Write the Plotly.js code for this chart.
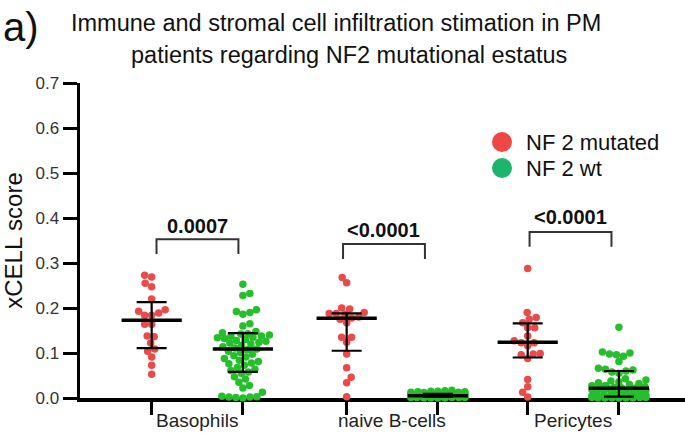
<!DOCTYPE html>
<html><head><meta charset="utf-8">
<script src="https://cdn.plot.ly/plotly-3.0.1.min.js"></script>
<style>html,body{margin:0;padding:0;background:#fff}#chart{width:685px;height:443px}</style>
</head><body><div id="chart"></div>
<script>
// ---------- DATA ----------
const categories = ["Basophils", "naive B-cells", "Pericytes"];
const seriesNames = ["NF 2 mutated", "NF 2 wt"];
const titleLines = ["Immune and stromal cell infiltration stimation in PM", "patients regarding NF2 mutational estatus"];

const mutBasophils = [0.273, 0.269, 0.255, 0.247, 0.220, 0.193, 0.196, 0.184, 0.184, 0.189,
  0.164, 0.164, 0.138, 0.136, 0.122, 0.109, 0.104, 0.091, 0.073, 0.053];
const wtBasophils = [0.253, 0.232, 0.228, 0.196, 0.192, 0.190, 0.186, 0.165, 0.160, 0.148,
  0.145, 0.143, 0.142, 0.140, 0.138, 0.137, 0.135, 0.134, 0.132, 0.130, 0.128, 0.126, 0.124,
  0.122, 0.120, 0.117, 0.114, 0.111, 0.109, 0.107, 0.104, 0.101, 0.097, 0.094, 0.091, 0.088,
  0.084, 0.081, 0.078, 0.076, 0.073, 0.068, 0.064, 0.061, 0.058, 0.055, 0.047, 0.042, 0.035,
  0.028, 0.022, 0.013, 0.004, 0.003, 0.002, 0.002, 0.001, 0.000];
const mutNaiveB = [0.268, 0.256, 0.200, 0.198, 0.188, 0.186, 0.190, 0.188, 0.180, 0.175,
  0.178, 0.167, 0.124, 0.135, 0.135, 0.098, 0.067, 0.046, 0.034, 0.003];
const wtNaiveB = [0.017, 0.016, 0.015, 0.015, 0.014, 0.014, 0.013, 0.013, 0.012, 0.012,
  0.011, 0.011, 0.010, 0.010, 0.009, 0.009, 0.009, 0.008, 0.008, 0.008, 0.007, 0.007, 0.007,
  0.006, 0.006, 0.006, 0.006, 0.005, 0.005, 0.005, 0.005, 0.005, 0.004, 0.004, 0.004, 0.004,
  0.004, 0.003, 0.003, 0.003, 0.003, 0.003, 0.003, 0.002, 0.002, 0.002, 0.002, 0.002, 0.001,
  0.001, 0.001, 0.001, 0.001, 0.001, 0.000, 0.000, 0.000, 0.000];
const mutPericytes = [0.288, 0.190, 0.179, 0.175, 0.167, 0.156, 0.156, 0.138, 0.127, 0.123,
  0.116, 0.123, 0.096, 0.099, 0.098, 0.088, 0.041, 0.025, 0.013, 0.002];
const wtPericytes = [0.157, 0.102, 0.100, 0.098, 0.096, 0.093, 0.081, 0.066, 0.064, 0.062,
  0.060, 0.058, 0.055, 0.043, 0.040, 0.038, 0.036, 0.034, 0.032, 0.030, 0.028, 0.027, 0.025,
  0.024, 0.023, 0.022, 0.022, 0.021, 0.020, 0.019, 0.018, 0.016, 0.015, 0.014, 0.012, 0.011,
  0.010, 0.009, 0.008, 0.007, 0.006, 0.005, 0.004, 0.003, 0.003, 0.002, 0.002, 0.002, 0.001,
  0.001, 0.001, 0.001, 0.000, 0.000, 0.000, 0.000, 0.000, 0.000];

// median and interquartile range
const mutMedian = [0.173, 0.177, 0.124];
const mutQ3 = [0.213, 0.188, 0.166];
const mutQ1 = [0.111, 0.105, 0.090];
const wtMedian = [0.109, 0.005, 0.0215];
const wtQ3 = [0.144, 0.009, 0.060];
const wtQ1 = [0.058, 0.002, 0.003];

const pValues = ["0.0007", "<0.0001", "<0.0001"];
const yTickVals = [0, 0.1, 0.2, 0.3, 0.4, 0.5, 0.6, 0.7];
const yTickText = ["0.0", "0.1", "0.2", "0.3", "0.4", "0.5", "0.6", "0.7"];

// ---------- LAYOUT CONSTANTS ----------
const W = 685, H = 443;
const M = {l: 80, r: 0, t: 83, b: 45};
const PW = W - M.l - M.r, PH = H - M.t - M.b;
const X_RANGE = [0, 6.5], Y_RANGE = [0, 0.7];
const PX_PER_X = PW / (X_RANGE[1] - X_RANGE[0]);
const PX_PER_Y = PH / (Y_RANGE[1] - Y_RANGE[0]);
const px2paperX = px => (px - M.l) / PW;
const px2paperY = py => (H - M.b - py) / PH;

const groupCenters = [1.26, 3.355, 5.30];
const pairOffset = 0.49;
const bracketCenters = [1.262, 3.266, 5.27];
const bracketHalf = 0.44;
const bracketTop = [0.353, 0.342, 0.369];
const bracketDrop = 0.033;
const labelY = [0.382, 0.373, 0.402];

const RED = "#E94B4B", GREEN = "#24BF2A";
const LEG_COLORS = ["#EF4646", "#1DB46E"];
const FONT = "Liberation Sans, Arial, Helvetica, sans-serif";
const MS = 7.5;

function swarmOffsets(vals, diam, maxHalf) {
  const n = vals.length;
  const order = vals.map((v, i) => i).sort((a, b) => vals[a] - vals[b]);
  const placed = [], off = new Array(n).fill(0);
  const cands = [0];
  for (let s = 0.5; s <= maxHalf + 1e-9; s += 0.5) cands.push(s, -s);
  let flip = 1;
  for (const i of order) {
    const y = vals[i] * PX_PER_Y;
    let best = 0, bestCost = Infinity;
    for (const c0 of cands) {
      const c = c0 * flip;
      let cost = 0;
      for (const p of placed) {
        const dx = c - p.x, dy = y - p.y;
        const d = Math.sqrt(dx * dx + dy * dy);
        if (d < diam) cost += diam - d;
      }
      if (cost < bestCost - 1e-6) { bestCost = cost; best = c; }
    }
    flip = -flip;
    placed.push({x: best, y: y});
    off[i] = best;
  }
  return off;
}

function swarmTrace(vals, center, color, name) {
  const off = swarmOffsets(vals, 7, 27);
  return {
    type: "scatter", mode: "markers", name: name, showlegend: false, cliponaxis: false, hoverinfo: "y",
    x: off.map(o => center + o / PX_PER_X), y: vals,
    marker: {color: color, size: MS, line: {width: 0}}
  };
}

const mutGroups = [mutBasophils, mutNaiveB, mutPericytes];
const wtGroups = [wtBasophils, wtNaiveB, wtPericytes];
const mutX = groupCenters.map(c => c - pairOffset);
const wtX = groupCenters.map(c => c + pairOffset);

const traces = [];
mutGroups.forEach((g, i) => traces.push(swarmTrace(g, mutX[i], RED, seriesNames[0])));
wtGroups.forEach((g, i) => traces.push(swarmTrace(g, wtX[i], GREEN, seriesNames[1])));

function summaryTrace(xs, med, q3, q1) {
  return {
    type: "scatter", mode: "markers", showlegend: false, cliponaxis: false, hoverinfo: "y",
    x: xs, y: med,
    marker: {symbol: "line-ew", size: 43, color: "#000", line: {color: "#000", width: 3.5}},
    error_y: {type: "data", symmetric: false,
      array: q3.map((v, i) => v - med[i]), arrayminus: q1.map((v, i) => med[i] - v),
      color: "#000", thickness: 2.2, width: 15}
  };
}
traces.push(summaryTrace(mutX, mutMedian, mutQ3, mutQ1));
traces.push(summaryTrace(wtX, wtMedian, wtQ3, wtQ1));

const shapes = [];
const annotations = [];
categories.forEach((c, i) => {
  const x0 = bracketCenters[i] - bracketHalf, x1 = bracketCenters[i] + bracketHalf;
  const yt = bracketTop[i], yb = yt - bracketDrop;
  shapes.push({type: "path", xref: "x", yref: "y",
    path: `M${x0},${yb} L${x0},${yt} L${x1},${yt} L${x1},${yb}`,
    line: {color: "#333", width: 2}});
  annotations.push({xref: "x", yref: "y", x: bracketCenters[i], y: labelY[i],
    text: "<b>" + pValues[i].replace("<", "&lt;") + "</b>",
    showarrow: false, xanchor: "center", yanchor: "middle",
    font: {family: FONT, size: 20, color: "#111"}});
  annotations.push({xref: "x", yref: "paper", x: groupCenters[i], y: 0, yshift: -22,
    text: c, showarrow: false, xanchor: "center", yanchor: "middle",
    font: {family: FONT, size: 19, color: "#222"}});
});

// manual legend (larger symbols, tighter spacing than Plotly's legend allows)
const legendCY = [142, 168];
seriesNames.forEach((nm, i) => {
  shapes.push({type: "circle", xref: "paper", yref: "paper", xsizemode: "pixel", ysizemode: "pixel",
    xanchor: px2paperX(502), yanchor: px2paperY(legendCY[i]), x0: -10, x1: 10, y0: -10, y1: 10,
    fillcolor: LEG_COLORS[i], line: {width: 0}});
  annotations.push({xref: "paper", yref: "paper", x: px2paperX(524), y: px2paperY(legendCY[i]),
    xanchor: "left", yanchor: "middle", text: nm, showarrow: false,
    font: {family: FONT, size: 22, color: "#111"}});
});

// panel letter and title
annotations.push({xref: "paper", yref: "paper", x: px2paperX(1), y: px2paperY(3),
  xanchor: "left", yanchor: "top", text: "a)", showarrow: false,
  font: {family: FONT, size: 40, color: "#111"}});
annotations.push({xref: "paper", yref: "paper", x: px2paperX(336), y: px2paperY(23),
  xanchor: "center", yanchor: "middle", text: titleLines[0], showarrow: false,
  font: {family: FONT, size: 23.5, color: "#111"}});
annotations.push({xref: "paper", yref: "paper", x: px2paperX(349), y: px2paperY(55),
  xanchor: "center", yanchor: "middle", text: titleLines[1], showarrow: false,
  font: {family: FONT, size: 23.5, color: "#111"}});

const layout = {
  width: W, height: H, margin: M,
  paper_bgcolor: "#fff", plot_bgcolor: "#fff", showlegend: false,
  xaxis: {range: X_RANGE, showgrid: false, zeroline: false, showline: true, linecolor: "#000", linewidth: 3.5,
    ticks: "outside", ticklen: 13, tickwidth: 3, tickcolor: "#000",
    tickvals: mutX.concat(wtX), ticktext: mutX.concat(wtX).map(() => ""), layer: "below traces", fixedrange: true},
  yaxis: {range: Y_RANGE, showgrid: false, zeroline: false, showline: true, linecolor: "#000", linewidth: 3.5,
    ticks: "outside", ticklen: 14, tickwidth: 3, tickcolor: "#000",
    tickvals: yTickVals, ticktext: yTickText, layer: "below traces",
    tickfont: {family: FONT, size: 17, color: "#333"},
    title: {text: "xCELL score", standoff: 12, font: {family: FONT, size: 24, color: "#111"}}},
  shapes: shapes, annotations: annotations
};

Plotly.newPlot("chart", traces, layout, {displayModeBar: false, staticPlot: true});
</script></body></html>
